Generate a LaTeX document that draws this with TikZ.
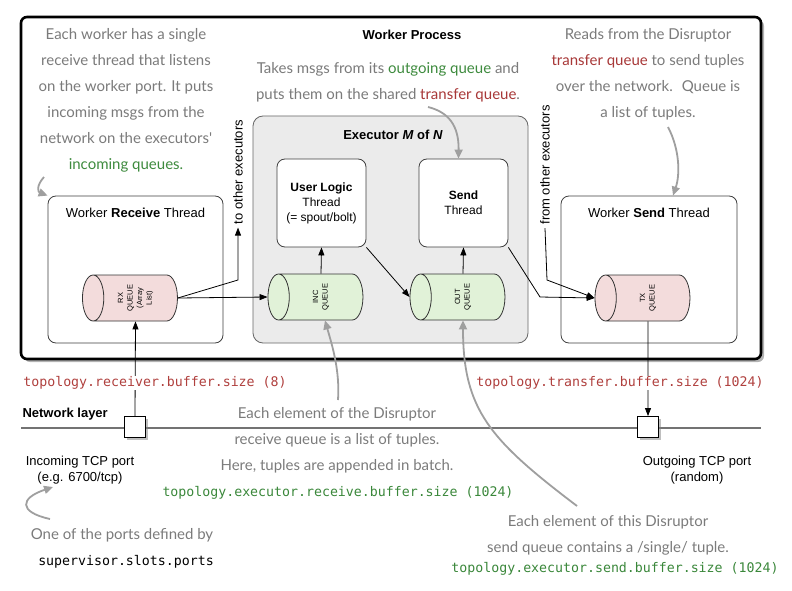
\documentclass[tikz,border=0pt]{standalone}
\usepackage{fontspec}
\setmainfont{Liberation Sans}
\setmonofont{DejaVu Sans Mono}
\newfontfamily\handfont{Lato}
\usetikzlibrary{arrows.meta, positioning, shapes.geometric, shadows}

\definecolor{handgray}{HTML}{7B7B7B}
\definecolor{hgreen}{HTML}{3E8B3E}
\definecolor{hred}{HTML}{A83838}
\definecolor{codered}{HTML}{B0403E}
\definecolor{codegreen}{HTML}{3A873A}
\definecolor{rxpink}{HTML}{F3DCDC}
\definecolor{incgreen}{HTML}{E1F2D8}
\definecolor{execgray}{HTML}{EBEBEB}

\tikzset{
  hand/.style={font=\handfont\fontsize{15}{26}\selectfont, text=handgray, align=center},
  cfg/.style={font=\ttfamily\fontsize{13.25}{16}\selectfont, inner sep=1pt},
  thread/.style={draw=black!75, rounded corners=8pt, fill=white, line width=0.8pt},
  queue/.style={cylinder, shape border rotate=180, draw=black!80, line width=0.8pt, aspect=0.8,
    minimum width=46pt, minimum height=95pt, inner sep=0pt, font=\fontsize{7.5}{9.5}\selectfont},
  port/.style={draw, fill=white, minimum size=21pt, inner sep=0pt, line width=0.9pt,
    drop shadow={shadow xshift=2pt, shadow yshift=-2pt, opacity=0.5}},
  flow/.style={-{Triangle[length=8pt, width=6pt]}, line width=0.8pt},
  note/.style={-{Triangle[length=9pt, width=8pt]}, draw=gray!75, line width=1.8pt},
}

\begin{document}
\begin{tikzpicture}[x=1pt, y=-1pt, font=\fontsize{13}{16}\selectfont]
\useasboundingbox (0,0) rectangle (792,591);

% worker process
\node[draw, line width=2.6pt, rounded corners=6pt, fill=white, minimum width=740pt, minimum height=342pt,
  drop shadow={shadow xshift=3pt, shadow yshift=-3pt, opacity=0.6}] (proc) at (391,188) {};
\node[font=\bfseries\fontsize{13}{16}\selectfont] (proctitle) at (412,35) {Worker Process};

% executor
\node[draw=black!60, fill=execgray, rounded corners=10pt, line width=0.8pt,
  minimum width=275pt, minimum height=227pt] (exec) at (390.5,229.5) {};
\node[font=\bfseries\fontsize{13}{16}\selectfont] (exectitle) at (393,135) {Executor \textit{M} of \textit{N}};
\node[thread, minimum width=89pt, minimum height=88pt, align=center, font=\fontsize{12}{15}\selectfont]
  (ulogic) at (321.5,203) {\textbf{User Logic}\\Thread\\(= spout/bolt)};
\node[thread, minimum width=89pt, minimum height=88pt, align=center, font=\fontsize{12}{15}\selectfont]
  (sendt) at (463.5,203) {\textbf{Send}\\Thread};
\node[queue, fill=incgreen] (incq) at (321,297) {\rotatebox{90}{\begin{tabular}{@{}c@{}}INC\\QUEUE\end{tabular}}};
\node[queue, fill=incgreen] (outq) at (463,297) {\rotatebox{90}{\begin{tabular}{@{}c@{}}OUT\\QUEUE\end{tabular}}};

% worker threads
\node[thread, minimum width=175pt, minimum height=147pt] (rxthread) at (135.5,269.5) {};
\node[below=9pt of rxthread.north] (rxtitle) {Worker \textbf{Receive} Thread};
\node[queue, fill=rxpink] (rxq) at (135.5,298) {\rotatebox{90}{\begin{tabular}{@{}c@{}}RX\\QUEUE\\(Array\\List)\end{tabular}}};

\node[thread, minimum width=176pt, minimum height=147pt] (txthread) at (649,269.5) {};
\node[below=9pt of txthread.north] (txtitle) {Worker \textbf{Send} Thread};
\node[queue, fill=rxpink] (txq) at (648,298) {\rotatebox{90}{\begin{tabular}{@{}c@{}}TX\\QUEUE\end{tabular}}};

\node[rotate=90] (toother) at (238,172) {to other executors};
\node[rotate=90] (fromother) at (545,165) {from other executors};

% network layer
\draw[line width=1.4pt, black!55] (21,428) -- (761,428);
\node[anchor=west, font=\bfseries\fontsize{13}{16}\selectfont] (netlayer) at (19,414) {Network layer};
\node[port] (inport) at (135,427) {};
\node[port] (outport) at (648,427) {};
\node[align=center] (intext) at (80,470) {Incoming TCP port\\(e.g. 6700/tcp)};
\node[align=center] (outtext) at (697,470) {Outgoing TCP port\\(random)};

% data flow
\coordinate (tobend) at (238,280);
\coordinate (sendbend) at (540,297);
\coordinate (frombend) at (547,280);
\draw[flow] (rxq.east) -- (incq.west);
\draw[flow] (rxq.east) -- (tobend) -- (toother.west);
\draw[flow] (incq.north) -- (ulogic.south);
\draw[flow] (outq.north) -- (sendt.south);
\draw[flow] (ulogic.south east) -- (outq.west);
\draw[flow] (sendt.south east) -- (sendbend) -- (txq.west);
\draw[flow] (fromother.west) -- (frombend) -- (txq.west);
\draw[flow] (inport.north) -- (rxq.south);
\draw[flow] (txq.south) -- (outport.north);

\node[cfg, text=codered, fill=white] (rxsize) at (155,383) {topology.receiver.buffer.size (8)};
\node[cfg, text=codered, fill=white] (txsize) at (620,383) {topology.transfer.buffer.size (1024)};

% notes
\node[hand] (recvnote) at (126,100) {Each worker has a single\\receive thread that listens\\on the worker port. It puts\\incoming msgs from the\\network on the executors'\\\textcolor{hgreen}{incoming queues.}};
\node[hand] (takesnote) at (388,82) {Takes msgs from its \textcolor{hgreen}{outgoing queue} and\\puts them on the shared \textcolor{hred}{transfer queue}.};
\node[hand] (readsnote) at (648,74) {Reads from the Disruptor\\\textcolor{hred}{transfer queue} to send tuples\\over the network.~ Queue is\\a list of tuples.};
\node[hand] (incnote) at (337,440) {Each element of the Disruptor\\receive queue is a list of tuples.\\Here, tuples are appended in batch.};
\node[cfg, text=codegreen] (incsize) at (338,493) {topology.executor.receive.buffer.size (1024)};
\node[hand] (outnote) at (608,535) {Each element of this Disruptor\\send queue contains a /single/ tuple.};
\node[cfg, text=codegreen] (outsize) at (615,569) {topology.executor.send.buffer.size (1024)};
\node[hand] (portnote) at (122,535) {One of the ports defined by};
\node[cfg] (slots) at (126,562) {supervisor.slots.ports};

\draw[note] (44,177) .. controls (36,186) and (38,192) .. (rxthread.north west);
\draw[note] (428,107) .. controls (448,112) and (459,125) .. ([xshift=-5pt]sendt.north);
\draw[note] (668,127) .. controls (680,150) and (680,175) .. ([xshift=24pt]txthread.north);
\draw[note] (338,400) .. controls (340,370) and (332,345) .. ([xshift=4pt]incq.south);
\draw[note] (577,506) .. controls (490,440) and (463,410) .. (outq.south);
\draw[note] (50,519) .. controls (18,512) and (20,498) .. (53,487);
\end{tikzpicture}
\end{document}
